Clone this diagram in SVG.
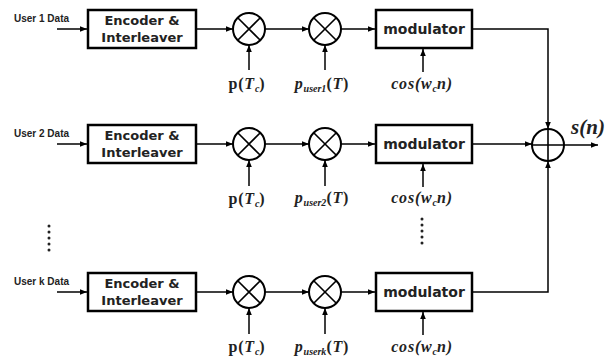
<svg xmlns="http://www.w3.org/2000/svg" width="616" height="358" viewBox="0 0 616 358">
<defs>
<marker id="ah" viewBox="0 0 10 10" refX="10" refY="5" markerWidth="7" markerHeight="7" markerUnits="userSpaceOnUse" orient="auto">
<path d="M0,1 L10,5 L0,9 z" fill="#000"/>
</marker>
</defs>
<style>
.box{fill:#fff;stroke:#000;stroke-width:2.5}
.circ{fill:none;stroke:#000;stroke-width:2}
.cross{stroke:#000;stroke-width:1.6}
.ln{fill:none;stroke:#000;stroke-width:1.5}
.ar{fill:none;stroke:#000;stroke-width:1.5;marker-end:url(#ah)}
.in{font-family:"Liberation Sans",Arial,sans-serif;font-size:10px;font-weight:bold;fill:#222}
.bt{font-family:"DejaVu Sans","Liberation Sans",sans-serif;font-size:13px;font-weight:bold;fill:#222;text-anchor:middle}
.mt{font-family:"Liberation Serif","Times New Roman",serif;font-size:16px;font-weight:bold;fill:#222;text-anchor:middle;letter-spacing:0.8px}
.it{font-style:italic}
.sub{font-size:10px;letter-spacing:0}
.dot{fill:#222}
</style>
<rect width="616" height="358" fill="#fff"/>

<g id="connectors">
<!-- row 1 -->
<line class="ar" x1="57" y1="29" x2="87" y2="29"/>
<line class="ar" x1="197" y1="29" x2="233" y2="29"/>
<line class="ar" x1="265" y1="29" x2="309" y2="29"/>
<line class="ar" x1="341" y1="29" x2="375" y2="29"/>
<line class="ar" x1="249" y1="70" x2="249" y2="45"/>
<line class="ar" x1="325" y1="70" x2="325" y2="45"/>
<line class="ar" x1="423" y1="72" x2="423" y2="49"/>
<polyline class="ar" points="473,29 548,29 548,129"/>
<!-- row 2 -->
<line class="ar" x1="57" y1="144" x2="87" y2="144"/>
<line class="ar" x1="197" y1="144" x2="233" y2="144"/>
<line class="ar" x1="265" y1="144" x2="309" y2="144"/>
<line class="ar" x1="341" y1="144" x2="375" y2="144"/>
<line class="ar" x1="249" y1="186" x2="249" y2="160"/>
<line class="ar" x1="325" y1="186" x2="325" y2="160"/>
<line class="ar" x1="423" y1="187" x2="423" y2="164"/>
<line class="ar" x1="473" y1="144" x2="532" y2="144"/>
<!-- row k -->
<line class="ar" x1="57" y1="292" x2="87" y2="292"/>
<line class="ar" x1="197" y1="292" x2="233" y2="292"/>
<line class="ar" x1="265" y1="292" x2="309" y2="292"/>
<line class="ar" x1="341" y1="292" x2="375" y2="292"/>
<line class="ar" x1="249" y1="334" x2="249" y2="308"/>
<line class="ar" x1="325" y1="334" x2="325" y2="308"/>
<line class="ar" x1="423" y1="335" x2="423" y2="312"/>
<polyline class="ar" points="473,292 548,292 548,161"/>
<!-- output -->
<line class="ar" x1="564" y1="145" x2="598" y2="145"/>
</g>

<g id="row1">
<text class="in" x="14" y="22">User 1 Data</text>
<g id="enc1"><rect class="box" x="88" y="10" width="108" height="38"/>
<text class="bt" x="142" y="25">Encoder &amp;</text><text class="bt" x="142" y="42">Interleaver</text></g>
<g id="mul1a"><circle class="circ" cx="249" cy="29" r="16"/><path class="cross" d="M237.7,17.7 L260.3,40.3 M260.3,17.7 L237.7,40.3"/></g>
<g id="mul1b"><circle class="circ" cx="325" cy="29" r="16"/><path class="cross" d="M313.7,17.7 L336.3,40.3 M336.3,17.7 L313.7,40.3"/></g>
<g id="mod1"><rect class="box" x="376" y="10" width="96" height="38"/><text class="bt" x="424" y="34" style="font-size:14px">modulator</text></g>
<text class="mt" x="247" y="89">p(<tspan class="it">T</tspan><tspan class="it sub" dy="3">c</tspan><tspan dy="-3">)</tspan></text>
<text class="mt" x="322" y="89"><tspan class="it">p</tspan><tspan class="it sub" dy="3">user1</tspan><tspan dy="-3">(</tspan><tspan class="it">T</tspan>)</text>
<text class="mt it" x="422" y="89">cos(w<tspan class="sub" dy="3">c</tspan><tspan dy="-3">n)</tspan></text>
</g>

<g id="row2">
<text class="in" x="14" y="137">User 2 Data</text>
<g id="enc2"><rect class="box" x="88" y="125" width="108" height="38"/>
<text class="bt" x="142" y="140">Encoder &amp;</text><text class="bt" x="142" y="157">Interleaver</text></g>
<g id="mul2a"><circle class="circ" cx="249" cy="144" r="16"/><path class="cross" d="M237.7,132.7 L260.3,155.3 M260.3,132.7 L237.7,155.3"/></g>
<g id="mul2b"><circle class="circ" cx="325" cy="144" r="16"/><path class="cross" d="M313.7,132.7 L336.3,155.3 M336.3,132.7 L313.7,155.3"/></g>
<g id="mod2"><rect class="box" x="376" y="125" width="96" height="38"/><text class="bt" x="424" y="149" style="font-size:14px">modulator</text></g>
<text class="mt" x="247" y="204">p(<tspan class="it">T</tspan><tspan class="it sub" dy="3">c</tspan><tspan dy="-3">)</tspan></text>
<text class="mt" x="322" y="203"><tspan class="it">p</tspan><tspan class="it sub" dy="3">user2</tspan><tspan dy="-3">(</tspan><tspan class="it">T</tspan>)</text>
<text class="mt it" x="422" y="203">cos(w<tspan class="sub" dy="3">c</tspan><tspan dy="-3">n)</tspan></text>
</g>

<g id="rowk">
<text class="in" x="14" y="285">User k Data</text>
<g id="enck"><rect class="box" x="88" y="273" width="108" height="38"/>
<text class="bt" x="142" y="288">Encoder &amp;</text><text class="bt" x="142" y="305">Interleaver</text></g>
<g id="mulka"><circle class="circ" cx="249" cy="292" r="16"/><path class="cross" d="M237.7,280.7 L260.3,303.3 M260.3,280.7 L237.7,303.3"/></g>
<g id="mulkb"><circle class="circ" cx="325" cy="292" r="16"/><path class="cross" d="M313.7,280.7 L336.3,303.3 M336.3,280.7 L313.7,303.3"/></g>
<g id="modk"><rect class="box" x="376" y="273" width="96" height="38"/><text class="bt" x="424" y="297" style="font-size:14px">modulator</text></g>
<text class="mt" x="247" y="352">p(<tspan class="it">T</tspan><tspan class="it sub" dy="3">c</tspan><tspan dy="-3">)</tspan></text>
<text class="mt" x="322" y="352"><tspan class="it">p</tspan><tspan class="it sub" dy="3">userk</tspan><tspan dy="-3">(</tspan><tspan class="it">T</tspan>)</text>
<text class="mt it" x="422" y="352">cos(w<tspan class="sub" dy="3">c</tspan><tspan dy="-3">n)</tspan></text>
</g>

<g id="sum"><circle class="circ" cx="548" cy="145" r="16"/><path class="cross" d="M532,145 H564 M548,129 V161"/></g>
<text x="588" y="134" style="font-family:'Liberation Serif','Times New Roman',serif;font-size:21px;font-weight:bold;font-style:italic;fill:#222;text-anchor:middle">s(n)</text>

<g id="dots-left">
<circle class="dot" cx="49" cy="226" r="1.5"/><circle class="dot" cx="49" cy="232" r="1.5"/><circle class="dot" cx="49" cy="238" r="1.5"/><circle class="dot" cx="49" cy="244" r="1.5"/><circle class="dot" cx="49" cy="250" r="1.5"/>
</g>
<g id="dots-right">
<circle class="dot" cx="422" cy="219" r="1.5"/><circle class="dot" cx="422" cy="225" r="1.5"/><circle class="dot" cx="422" cy="231" r="1.5"/><circle class="dot" cx="422" cy="237" r="1.5"/><circle class="dot" cx="422" cy="243" r="1.5"/>
</g>
</svg>
